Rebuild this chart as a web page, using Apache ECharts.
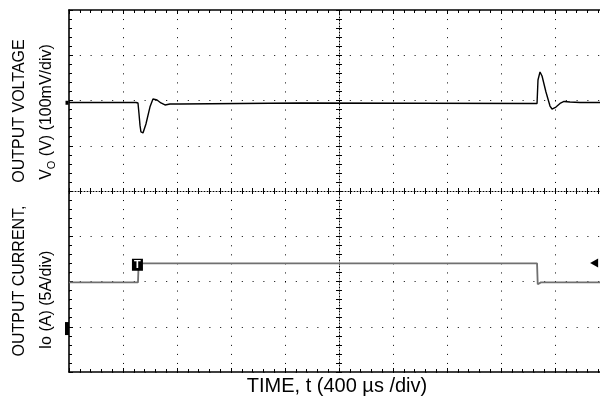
<!DOCTYPE html>
<html>
<head>
<meta charset="utf-8">
<script src="https://cdn.jsdelivr.net/npm/echarts@6/dist/echarts.min.js"></script>
<style>
html,body{margin:0;padding:0;background:#fff;}
#c{width:600px;height:398px;}
</style>
</head>
<body>
<div id="c"></div>
<script>
// Output voltage trace: time (µs) and deviation from nominal (mV)
const voltTime = [0, 496, 511, 518, 526, 533, 548, 570, 600, 622, 652, 681, 711, 748, 822, 1711, 3467, 3474, 3489, 3504, 3533, 3563, 3578, 3607, 3637, 3667, 3711, 3785, 4000];
const voltMv   = [-4.4, -4.4, -5.5, -27.6, -55, -69.6, -71.8, -51.9, -14, 3.3, 1.1, -5.5, -9.9, -7.7, -7.7, -5.5, -6.6, 45.3, 63.1, 54.1, 18.8, -12.2, -18.8, -14.4, -6.6, -2.2, -3.3, -4.4, -4.4];
// Output current trace: time (µs) and current (A)
const curTime = [0, 511, 516, 3467, 3472, 3481, 3496, 4000];
const curAmp  = [4.9, 4.9, 7.0, 7.0, 4.7, 4.8, 4.9, 4.9];
// Markers (data coordinates)
const trigMarker = [507, 6.85];
const rightMarker = [3890, 7.05];
const gndMarker = [0, -0.2];
const voltRefMarker = [0, -5];

const FONT = "'Liberation Sans', Arial, sans-serif";
const chart = echarts.init(document.getElementById('c'), null, {renderer: 'canvas'});

const frameLine = {show: true, onZero: false, lineStyle: {color: '#000', width: 1.6}};
const tickIn = {show: true, inside: true, length: 4, lineStyle: {color: '#000', width: 1}};
const minorIn = {show: true, splitNumber: 5, length: 3, lineStyle: {color: '#000', width: 1}};

const option = {
  animation: false,
  backgroundColor: '#fff',
  grid: {left: 69, top: 10, width: 540, height: 362, containLabel: false, outerBoundsMode: 'none'},
  xAxis: [
    {type: 'value', min: -5, max: 5, interval: 1, position: 'bottom',
     axisLine: frameLine, axisTick: tickIn, minorTick: minorIn, axisLabel: {show: false},
     splitLine: {show: true, lineStyle: {color: '#000', width: 1, type: [1, 8.05]}}},
    {type: 'value', min: -5, max: 5, interval: 1, position: 'top',
     axisLine: frameLine, axisTick: tickIn, minorTick: minorIn, axisLabel: {show: false}, splitLine: {show: false}},
    {type: 'value', min: -5, max: 5, interval: 1, position: 'bottom',
     axisLine: {show: true, onZero: true, onZeroAxisIndex: 0, lineStyle: {color: '#000', width: 1, type: [1, 2]}},
     axisTick: {show: true, inside: true, length: 3, lineStyle: {color: '#000'}},
     minorTick: {show: true, splitNumber: 5, length: 3, lineStyle: {color: '#000'}}, axisLabel: {show: false}, splitLine: {show: false}},
    {type: 'value', min: -5, max: 5, interval: 1, position: 'bottom',
     axisLine: {show: false, onZero: true, onZeroAxisIndex: 0},
     axisTick: {show: true, inside: false, length: 3, lineStyle: {color: '#000'}},
     minorTick: {show: true, splitNumber: 5, length: 3, lineStyle: {color: '#000'}}, axisLabel: {show: false}, splitLine: {show: false}},
    {type: 'value', min: 0, max: 4000, show: false}
  ],
  yAxis: [
    {type: 'value', min: -4, max: 4, interval: 1, position: 'left',
     axisLine: frameLine, axisTick: tickIn, minorTick: minorIn, axisLabel: {show: false},
     splitLine: {show: true, lineStyle: {color: '#000', width: 1, type: [1, 9.8]}}},
    {type: 'value', min: -4, max: 4, interval: 1, position: 'left',
     axisLine: {show: true, onZero: true, onZeroAxisIndex: 0, lineStyle: {color: '#000', width: 1, type: [1, 2]}},
     axisTick: {show: true, inside: true, length: 3, lineStyle: {color: '#000'}},
     minorTick: {show: true, splitNumber: 5, length: 3, lineStyle: {color: '#000'}}, axisLabel: {show: false}, splitLine: {show: false}},
    {type: 'value', min: -4, max: 4, interval: 1, position: 'left',
     axisLine: {show: false, onZero: true, onZeroAxisIndex: 0},
     axisTick: {show: true, inside: false, length: 3, lineStyle: {color: '#000'}},
     minorTick: {show: true, splitNumber: 5, length: 3, lineStyle: {color: '#000'}}, axisLabel: {show: false}, splitLine: {show: false}},
    {type: 'value', min: -600, max: 200, show: false},
    {type: 'value', min: -5, max: 35, show: false}
  ],
  series: [
    {type: 'line', xAxisIndex: 4, yAxisIndex: 3, showSymbol: false, silent: true,
     data: voltTime.map((t, i) => [t, voltMv[i]]),
     lineStyle: {color: '#000', width: 1.4},
     markPoint: {symbol: 'rect', symbolSize: [3, 4], symbolOffset: [-2, 0], itemStyle: {color: '#000'}, label: {show: false},
       data: [{coord: voltRefMarker}]}},
    {type: 'line', xAxisIndex: 4, yAxisIndex: 4, showSymbol: false, silent: true,
     data: curTime.map((t, i) => [t, curAmp[i]]),
     lineStyle: {color: '#707070', width: 1.8},
     markPoint: {
       data: [
         {coord: trigMarker, symbol: 'rect', symbolSize: [11, 12], itemStyle: {color: '#000'},
          label: {show: true, formatter: 'T', color: '#fff', fontSize: 11, fontWeight: 'bold', fontFamily: FONT}},
         {coord: rightMarker, symbol: 'triangle', symbolSize: [9, 8], symbolRotate: 90, itemStyle: {color: '#000'}, label: {show: false}},
         {coord: gndMarker, symbol: 'rect', symbolSize: [4, 13], symbolOffset: [-2, 0], itemStyle: {color: '#000'}, label: {show: false}}
       ]}}
  ],
  graphic: [
    {type: 'text', x: 20, y: 111, rotation: Math.PI / 2,
     style: {text: 'OUTPUT VOLTAGE', font: '16px ' + FONT, fill: '#000', align: 'center', verticalAlign: 'middle'}},
    {type: 'text', x: 20, y: 281, rotation: Math.PI / 2,
     style: {text: 'OUTPUT CURRENT,', font: '16px ' + FONT, fill: '#000', align: 'center', verticalAlign: 'middle'}},
    {type: 'text', x: 47, y: 112, rotation: Math.PI / 2,
     style: {text: '{a|V}{s|O}{a| (V) (100mV/div)}', align: 'center', verticalAlign: 'middle',
       rich: {a: {fontSize: 16, fontFamily: FONT, color: '#000', lineHeight: 20, verticalAlign: 'middle'},
              s: {fontSize: 11, fontFamily: FONT, color: '#000', lineHeight: 20, verticalAlign: 'bottom'}}}},
    {type: 'text', x: 47, y: 300, rotation: Math.PI / 2,
     style: {text: 'Io (A) (5A/div)', font: '16px ' + FONT, fill: '#000', align: 'center', verticalAlign: 'middle'}},
    {type: 'text', x: 337, y: 386,
     style: {text: 'TIME, t (400 µs /div)', font: '20px ' + FONT, fill: '#000', align: 'center', verticalAlign: 'middle'}}
  ]
};
chart.setOption(option);
</script>
</body>
</html>
